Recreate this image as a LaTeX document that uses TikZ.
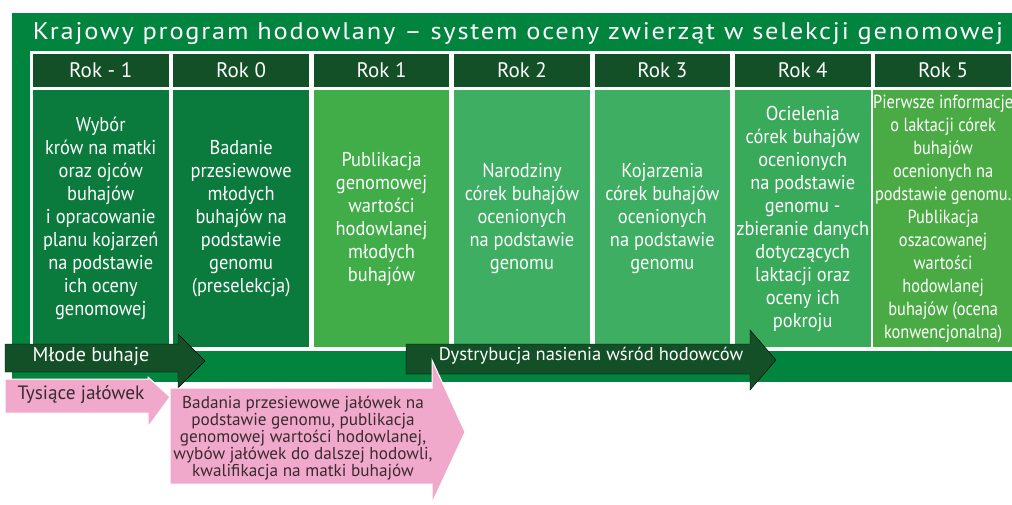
\documentclass[tikz,border=0pt]{standalone}
\usepackage{fontspec}
\setmainfont{PT Sans}
\newfontfamily\condfont[FakeStretch=0.92]{PT Sans}
\newfontfamily\narrowfont[FakeStretch=0.86]{PT Sans}
\newfontfamily\titlefont[FakeStretch=1.1,LetterSpace=7.5]{PT Sans}
\usepackage{tikz}
\usetikzlibrary{positioning}
\definecolor{zielen}{HTML}{00843E}
\definecolor{ciemny}{HTML}{134F27}
\definecolor{kolA}{HTML}{0B7B3D}
\definecolor{kolB}{HTML}{41AD49}
\definecolor{kolC}{HTML}{3DAE62}
\definecolor{kolD}{HTML}{39A95A}
\definecolor{kolE}{HTML}{4AAB45}
\definecolor{roz}{HTML}{F0A8CB}
\definecolor{tekst}{HTML}{3A2B30}
\tikzstyle{year} = [rectangle, fill=ciemny, text=white, minimum width=135.5pt, minimum height=33pt, inner sep=0pt, font=\fontsize{21}{21}\selectfont]
\tikzstyle{cell} = [rectangle, text=white, minimum width=135.5pt, minimum height=257pt, inner sep=0pt, align=center, font=\condfont\fontsize{20}{23}\selectfont]
\tikzstyle{darkarrow} = [fill=ciemny]
\tikzstyle{pinkarrow} = [fill=roz, draw=white, line width=1pt]
\tikzstyle{every node}=[inner sep=0pt]

\begin{document}
\begin{tikzpicture}[x=1pt, y=-1pt, node distance=4.5pt]
		\useasboundingbox[fill=white] (0,0) rectangle (1012,505);
		%tlo i tytul
		\fill[zielen] (12,13) rectangle (1012,382);
		\node (title) [text=white, font=\titlefont\fontsize{24}{24}\selectfont] at (518,34) {Krajowy program hodowlany – system oceny zwierząt w selekcji genomowej};
		\fill[white] (30,51) rectangle (1012,351);
		
		%naglowki lat
		\node (year1) [year] at (100.75,70.5) {Rok - 1};
		\node (year2) [year, right=of year1] {Rok 0};
		\node (year3) [year, right=of year2] {Rok 1};
		\node (year4) [year, right=of year3] {Rok 2};
		\node (year5) [year, right=of year4] {Rok 3};
		\node (year6) [year, right=of year5] {Rok 4};
		\node (year7) [year, right=of year6] {Rok 5};
		
		%opisy
		\node (cell1) [cell, fill=kolA, below=3pt of year1] {Wybór\\krów na matki\\oraz ojców\\buhajów\\i opracowanie\\planu kojarzeń\\na podstawie\\ich oceny\\genomowej};
		\node (cell2) [cell, fill=kolA, below=3pt of year2] {Badanie\\przesiewowe\\młodych\\buhajów na\\podstawie\\genomu\\(preselekcja)};
		\node (cell3) [cell, fill=kolB, below=3pt of year3] {Publikacja\\genomowej\\wartości\\hodowlanej\\młodych\\buhajów};
		\node (cell4) [cell, fill=kolC, below=3pt of year4] {Narodziny\\córek buhajów\\ocenionych\\na podstawie\\genomu};
		\node (cell5) [cell, fill=kolC, below=3pt of year5] {Kojarzenia\\córek buhajów\\ocenionych\\na podstawie\\genomu};
		\node (cell6) [cell, fill=kolD, below=3pt of year6] {Ocielenia\\córek buhajów\\ocenionych\\na podstawie\\genomu -\\zbieranie danych\\dotyczących\\laktacji oraz\\oceny ich\\pokroju};
		\node (cell7) [cell, fill=kolE, below=3pt of year7, font=\narrowfont\fontsize{19}{23}\selectfont] {Pierwsze informacje\\o laktacji córek\\buhajów\\ocenionych na\\podstawie genomu.\\Publikacja\\oszacowanej\\wartości\\hodowlanej\\buhajów (ocena\\konwencjonalna)};
		
		%strzalki
		\draw[darkarrow] (5,344) -- (178,344) -- (178,334) -- (205,361) -- (178,388) -- (178,372) -- (5,372) -- cycle;
		\draw[darkarrow] (406,344) -- (750,344) -- (750,330) -- (776,360) -- (750,390) -- (750,374) -- (406,374) -- cycle;
		\draw[pinkarrow] (5,379) -- (148,379) -- (148,377) -- (170,397) -- (148,427) -- (148,413) -- (5,413) -- cycle;
		\draw[pinkarrow] (170,388) -- (432,388) -- (432,360) -- (465,432) -- (432,503) -- (432,484) -- (170,484) -- cycle;
		
		\node (young) [text=white, font=\fontsize{20}{20}\selectfont] at (91,357) {Młode buhaje};
		\node (distribution) [text=white, font=\fontsize{18.5}{18.5}\selectfont] at (591,356) {Dystrybucja nasienia wśród hodowców};
		\node (heifers) [text=tekst, font=\fontsize{19.3}{19.3}\selectfont] at (81,395) {Tysiące jałówek};
		\node (screening) [text=tekst, align=center, font=\fontsize{17.2}{17}\selectfont] at (303,438) {Badania przesiewowe jałówek na\\podstawie genomu, publikacja\\genomowej wartości hodowlanej,\\wybów jałówek do dalszej hodowli,\\kwalifikacja na matki buhajów};
		
	\end{tikzpicture}
\end{document}
